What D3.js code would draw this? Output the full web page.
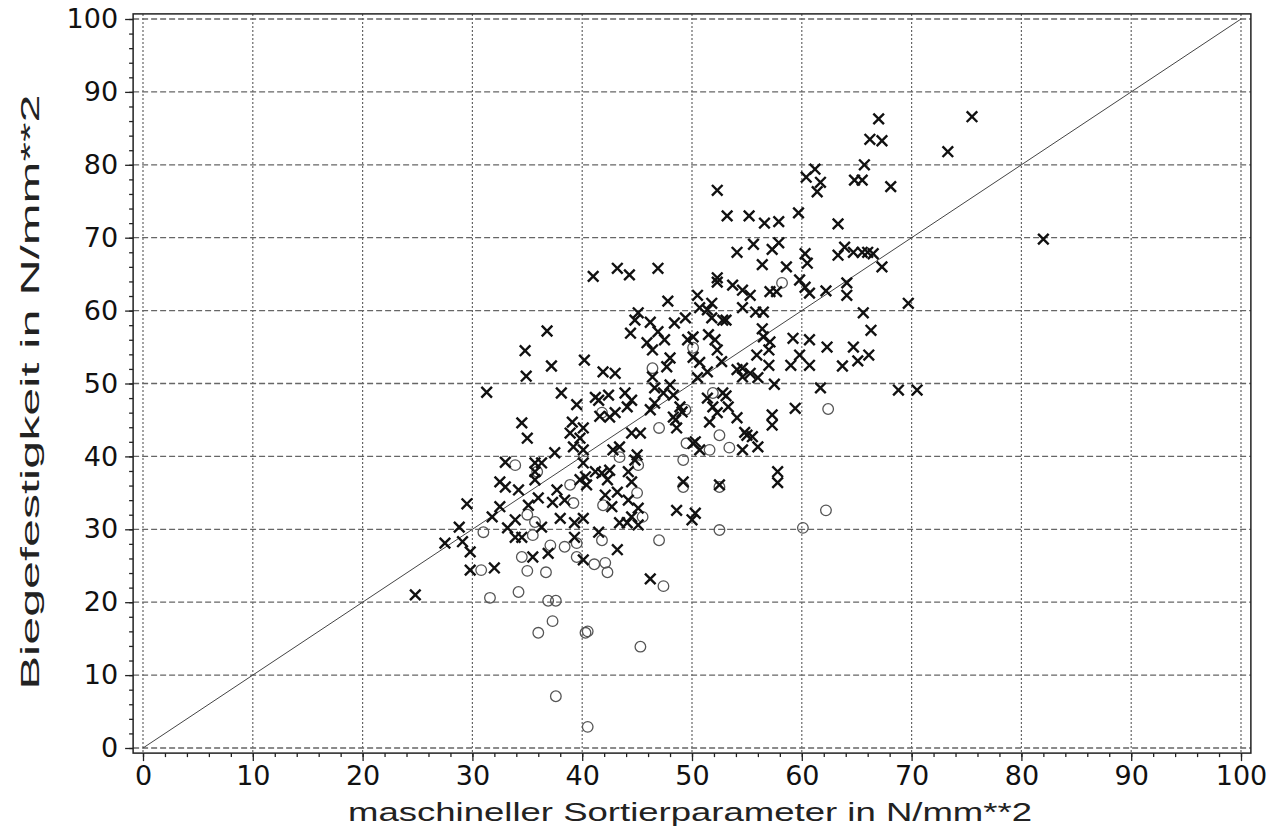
<!DOCTYPE html>
<html><head><meta charset="utf-8">
<script src="https://cdn.jsdelivr.net/npm/d3@7"></script>
<style>body{margin:0;background:#fff}svg{display:block}</style>
</head><body>
<script>
const majorTicks=[0,10,20,30,40,50,60,70,80,90,100];
const minorTicks=d3.range(0,101,2);
const xTitle="maschineller Sortierparameter in N/mm**2";
const yTitle="Biegefestigkeit in N/mm**2";
const crossX=[24.8,82.0,75.5,73.3,67.0,67.3,66.2,68.1,66.5,67.3,69.7,68.8,70.5,66.3,66.1,65.7,64.8,65.5,60.4,61.2,61.7,61.4,59.7,53.2,55.2,56.6,57.9,63.3,52.3,54.1,55.6,57.3,57.9,56.4,58.6,60.3,60.5,63.3,63.9,64.7,65.5,66.0,64.1,64.1,53.7,54.6,55.3,57.1,57.7,59.8,60.3,60.7,62.2,52.3,54.6,55.8,56.5,53.1,65.6,56.4,56.5,57.1,57.0,59.2,60.7,62.3,64.7,59.8,55.9,57.0,59.0,60.7,63.7,65.1,52.7,54.1,54.6,54.6,55.3,56.0,57.5,61.7,53.1,53.3,59.4,57.3,57.3,54.1,54.8,55.5,56.0,54.6,57.8,57.8,52.5,50.3,55.0,50.1,50.7,44.5,45.3,48.5,48.6,50.3,49.2,48.6,50.0,43.2,41.5,40.1,43.4,44.1,44.5,45.1,45.1,44.2,42.7,42.1,43.2,44.5,40.3,40.4,41.8,42.3,42.5,44.2,44.8,45.0,41.2,40.1,39.8,42.8,43.4,40.1,39.8,39.3,39.3,41.6,42.5,43.0,40.1,48.3,49.1,51.6,52.3,34.5,35.0,39.1,38.9,37.5,39.2,33.0,35.7,36.3,35.7,35.7,32.5,33.0,34.2,37.7,38.4,37.3,36.0,35.1,32.5,29.5,31.8,33.9,38.0,36.3,28.8,33.2,33.9,34.5,29.1,27.5,29.8,36.9,35.5,29.8,32.0,46.2,40.1,41.0,43.2,44.3,46.9,52.3,47.8,50.5,50.7,51.8,51.4,51.8,52.8,45.1,44.8,46.2,44.4,46.9,48.4,49.4,47.5,45.9,46.4,49.6,50.1,51.5,52.1,52.3,40.2,41.9,43.0,48.0,47.7,46.4,50.1,50.7,51.4,50.5,46.6,47.4,48.0,48.3,43.9,44.1,44.5,41.5,42.4,39.5,46.2,46.6,48.9,51.4,51.9,52.8,36.8,34.8,37.2,34.9,31.3,38.1,41.2];
const crossY=[21.0,69.8,86.6,81.8,86.3,83.3,83.5,77.0,67.8,66.0,61.0,49.1,49.1,57.3,53.9,80.0,77.9,77.9,78.3,79.4,77.6,76.3,73.4,73.0,73.0,72.0,72.2,71.9,76.5,68.0,69.1,68.4,69.3,66.3,66.0,67.8,66.5,67.6,68.7,68.0,68.0,68.0,63.8,62.1,63.5,62.8,62.1,62.6,62.6,64.2,63.2,62.4,62.7,63.9,60.4,59.8,59.8,58.7,59.7,57.5,56.4,55.7,54.6,56.2,56.0,55.0,55.0,53.9,53.9,52.5,52.5,52.5,52.4,53.1,53.0,51.9,52.1,50.9,51.4,50.8,49.9,49.4,48.3,46.8,46.6,45.7,44.3,45.3,43.3,42.7,41.3,40.9,37.9,36.4,36.1,32.2,42.9,41.8,40.9,43.2,43.2,45.0,43.9,42.0,36.5,32.6,31.3,27.2,29.6,31.5,30.9,30.9,31.7,30.6,32.9,34.0,33.1,34.7,35.1,36.5,37.2,36.1,37.7,36.8,38.1,37.9,39.5,40.2,37.9,39.1,36.8,40.9,41.3,40.9,42.5,30.9,28.9,45.5,45.4,46.0,43.9,45.4,46.1,44.7,46.0,44.6,42.5,44.7,43.2,40.5,41.3,39.2,39.1,39.1,37.9,36.8,36.5,35.8,35.4,35.4,34.0,33.7,34.3,33.3,33.1,33.5,31.7,31.3,31.5,30.3,30.3,30.2,28.9,28.9,28.3,28.1,26.9,26.7,26.2,24.4,24.7,23.2,25.8,64.7,65.8,64.9,65.8,64.5,61.3,62.1,60.4,61.0,60.1,59.0,58.7,59.7,58.7,58.4,56.9,57.1,58.3,59.0,56.0,55.6,54.6,56.0,56.4,56.7,56.0,54.6,53.2,51.6,51.4,53.5,52.3,50.9,53.6,52.9,51.6,50.8,49.4,48.7,49.8,48.4,48.7,46.8,47.7,47.7,48.4,47.1,46.4,47.3,46.8,48.0,46.8,48.7,57.2,54.5,52.4,51.0,48.8,48.7,48.1];
const circX=[30.8,31.6,34.2,34.5,35.0,36.7,36.9,37.6,37.3,36.0,37.6,40.3,40.5,40.5,45.3,47.4,39.5,41.1,42.1,42.3,33.9,35.9,38.9,39.2,31.0,35.0,35.7,35.5,37.1,38.4,41.8,39.5,41.9,45.0,45.1,43.4,47.0,49.5,51.6,49.2,49.2,52.5,47.0,52.5,62.2,60.1,52.5,53.4,62.4,58.2,50.1,46.4,51.9,49.4,41.8,45.5];
const circY=[24.4,20.6,21.4,26.2,24.3,24.1,20.2,20.2,17.4,15.8,7.1,15.8,16.0,2.9,13.9,22.2,26.2,25.2,25.4,24.1,38.8,37.9,36.1,33.6,29.6,32.0,31.0,29.2,27.8,27.6,28.5,28.1,33.3,35.0,38.8,39.9,43.9,41.8,40.9,39.5,35.8,29.9,28.5,35.8,32.6,30.2,42.9,41.2,46.5,63.8,54.9,52.1,48.7,46.4,46.0,31.7];

const W=1280,H=838;
const svg=d3.select("body").append("svg").attr("width",W).attr("height",H);
const x=d3.scaleLinear().domain([0,100]).range([143,1241]);
const y=d3.scaleLinear().domain([0,100]).range([748,19]);
const fl=x(-0.9),fr=x(100.9),ft=y(100.7),fb=y(-0.7);

// grid
const g=svg.append("g");
g.selectAll("line.v").data(majorTicks).join("line")
 .attr("x1",d=>x(d)).attr("x2",d=>x(d)).attr("y1",ft).attr("y2",fb)
 .attr("stroke","#666").attr("stroke-width",1.2).attr("stroke-dasharray","2,2");
g.selectAll("line.h").data(majorTicks).join("line")
 .attr("y1",d=>y(d)).attr("y2",d=>y(d)).attr("x1",fl).attr("x2",fr)
 .attr("stroke","#666").attr("stroke-width",1.3).attr("stroke-dasharray","6,3");

// diagonal
svg.append("line").attr("x1",x(0)).attr("y1",y(0)).attr("x2",x(100)).attr("y2",y(100))
 .attr("stroke","#444").attr("stroke-width",1);

// frame
svg.append("rect").attr("x",fl).attr("y",ft).attr("width",fr-fl).attr("height",fb-ft)
 .attr("fill","none").attr("stroke","#222").attr("stroke-width",1.5);

// axes
const font="'DejaVu Sans', sans-serif";
const ax=svg.append("g").attr("transform",`translate(0,${fb})`)
 .call(d3.axisBottom(x).tickValues(majorTicks).tickSize(8).tickPadding(5).tickFormat(d3.format("d")));
const axm=svg.append("g").attr("transform",`translate(0,${fb})`)
 .call(d3.axisBottom(x).tickValues(minorTicks).tickSize(4).tickFormat(""));
const ay=svg.append("g").attr("transform",`translate(${fl},0)`)
 .call(d3.axisLeft(y).tickValues(majorTicks).tickSize(8).tickPadding(7).tickFormat(d3.format("d")));
const aym=svg.append("g").attr("transform",`translate(${fl},0)`)
 .call(d3.axisLeft(y).tickValues(minorTicks).tickSize(4).tickFormat(""));
[ax,axm,ay,aym].forEach(a=>{a.select(".domain").remove();a.selectAll("line").attr("stroke","#222").attr("stroke-width",1.3);});
[ax,ay].forEach(a=>a.selectAll("text").attr("font-family",font).attr("font-size",27).attr("fill","#111"));

// titles
const tfont="'Liberation Sans', Arial, sans-serif";
svg.append("text").attr("x",690).attr("y",821).attr("text-anchor","middle")
 .attr("font-family",tfont).attr("font-size",25).attr("fill","#222")
 .attr("textLength",684).attr("lengthAdjust","spacingAndGlyphs").text(xTitle);
svg.append("text").attr("transform","translate(39,392) rotate(-90)").attr("text-anchor","middle")
 .attr("font-family",tfont).attr("font-size",25).attr("fill","#222")
 .attr("textLength",595).attr("lengthAdjust","spacingAndGlyphs").text(yTitle);

// circles
svg.append("g").selectAll("circle").data(d3.range(circX.length)).join("circle")
 .attr("cx",i=>x(circX[i])).attr("cy",i=>y(circY[i])).attr("r",5.3)
 .attr("fill","none").attr("stroke","#555").attr("stroke-width",1.3);

// crosses
const s=5.3;
svg.append("g").selectAll("path").data(d3.range(crossX.length)).join("path")
 .attr("d",i=>{const cx=x(crossX[i]),cy=y(crossY[i]);return `M${cx-s},${cy-s}L${cx+s},${cy+s}M${cx-s},${cy+s}L${cx+s},${cy-s}`;})
 .attr("stroke","#111").attr("stroke-width",2.4).attr("fill","none");
</script>
</body></html>
